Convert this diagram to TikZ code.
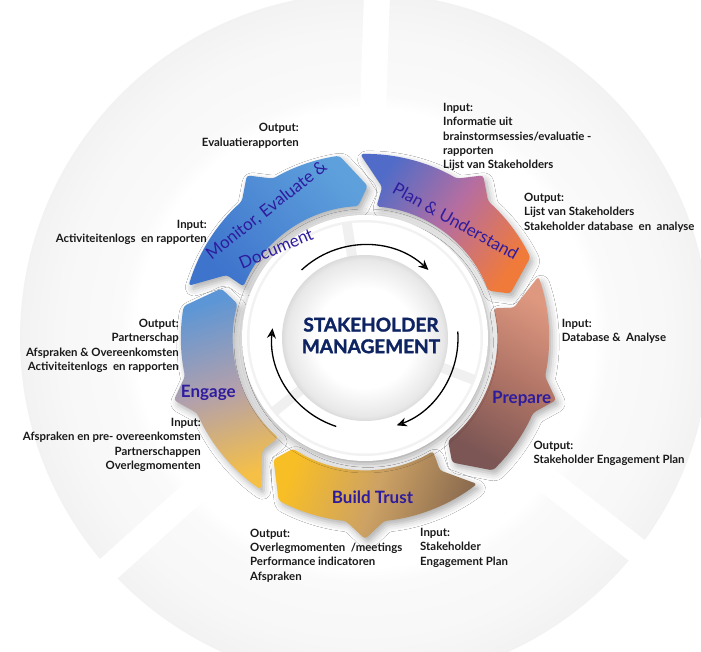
\documentclass[tikz,border=0pt]{standalone}
\usepackage{fontspec}
\setmainfont{Lato}
\newfontfamily\heavyfont{Lato}[BoldFeatures={FakeBold=1.6}]
\usetikzlibrary{shadows.blur,arrows.meta}
\definecolor{stagecol}{RGB}{46,28,158}
\definecolor{navy}{RGB}{14,36,98}
\definecolor{lbltext}{RGB}{25,25,25}
\pgfdeclareradialshading{bgring}{\pgfpoint{0bp}{0bp}}{color(0bp)=(white);color(16.6bp)=(white);color(17.8bp)=(black!2);color(22bp)=(black!3);color(25bp)=(black!5);color(50bp)=(black!5)}
\pgfdeclareradialshading{innerdisc}{\pgfpoint{0bp}{0bp}}{color(0bp)=(white);color(15bp)=(white);color(23.5bp)=(black!9);color(25bp)=(black!14);color(50bp)=(black!14)}
\tikzset{
  gearseg/.style={insert path={({#1+37.5}:184) arc[start angle={#1+37.5},end angle={#1+6},radius=184pt]
     -- ({#1}:201) -- ({#1-6}:184) arc[start angle={#1-6},end angle={#1-28},radius=184pt]
     -- ({#1-37}:152) -- ({#1-33}:132) arc[start angle={#1-33},end angle={#1+31},radius=132pt]
     -- ({#1+29.5}:152) -- cycle}},
  segshadow/.style={blur shadow={shadow xshift=3pt,shadow yshift=-4pt,shadow blur radius=7pt,shadow opacity=32}},
  lbl/.style={inner sep=0pt,text=lbltext,font=\fontsize{11.4}{14.3}\selectfont\bfseries},
  stagelbl/.style={inner sep=0pt,text=stagecol,font=\fontsize{17}{20}\selectfont\bfseries},
  stagerot/.style={inner sep=0pt,text=stagecol,font=\fontsize{17}{20}\selectfont},
  cyclearrow/.style={line width=1.3pt,-{Stealth[length=10pt,width=9pt]}},
}
\begin{document}
\begin{tikzpicture}[x=1pt,y=1pt]
\useasboundingbox (-365,-314) rectangle (336,338);
\fill[white] (-365,-314) rectangle (336,338);
% background ring with spokes
\shade[shading=bgring] (0,0) circle[radius=345pt];
\foreach \a in {88,222,322}{
  \fill[white,rotate=\a] (226,-13) rectangle (370,13);
}
% gear segments
\shade[segshadow,rounded corners=3pt,top color={rgb,255:red,94;green,160;blue,220},bottom color={rgb,255:red,62;green,116;blue,204},shading angle=-45] [gearseg=126];
\shade[segshadow,rounded corners=3pt,top color={rgb,255:red,80;green,108;blue,200},bottom color={rgb,255:red,240;green,122;blue,58},middle color={rgb,255:red,182;green,110;blue,160},shading angle=55] [gearseg=54];
\shade[segshadow,rounded corners=3pt,top color={rgb,255:red,222;green,152;blue,128},bottom color={rgb,255:red,124;green,86;blue,84},middle color={rgb,255:red,176;green,116;blue,102},shading angle=-30] [gearseg=-18];
\shade[segshadow,rounded corners=3pt,top color={rgb,255:red,248;green,190;blue,38},bottom color={rgb,255:red,140;green,108;blue,80},middle color={rgb,255:red,205;green,162;blue,100},shading angle=70] [gearseg=-90];
\shade[segshadow,rounded corners=3pt,top color={rgb,255:red,92;green,150;blue,214},bottom color={rgb,255:red,246;green,192;blue,70},middle color={rgb,255:red,178;green,160;blue,172},shading angle=18] [gearseg=-162];
% central disc
\fill[white,blur shadow={shadow xshift=1pt,shadow yshift=-3pt,shadow blur radius=9pt,shadow opacity=38}] (0,0) circle[radius=123pt];
\fill[black!5] (0,0) circle[radius=118pt];
\fill[white] (0,0) circle[radius=115.5pt];
\foreach \a in {99,-21,219}{
  \fill[black!6,rotate=\a] (80,-5) rectangle (117,5);
}
\shade[shading=innerdisc] (0,0) circle[radius=83pt];
% cycle arrows
\draw[cyclearrow] (133:93) arc[start angle=133,end angle=47,radius=93pt];
\draw[cyclearrow] (4:93) arc[start angle=4,end angle=-70,radius=93pt];
\draw[cyclearrow] (252:93) arc[start angle=252,end angle=174,radius=93pt];
% centre title
\node[align=center,inner sep=0pt,text=navy,font=\heavyfont\bfseries\fontsize{19}{21.6}\selectfont] (title) at (6,2.5) {STAKEHOLDER\\MANAGEMENT};
% stage labels
\node[stagerot,rotate=-29] (plan) at (90.8,117) {Plan \& Understand};
\node[stagerot,rotate=38] (mon1) at (-98.3,127.5) {Monitor, Evaluate \&};
\node[stagerot,rotate=23] (mon2) at (-89,89.5) {Document};
\node[stagelbl,anchor=base] (prep) at (156.7,-65.3) {Prepare};
\node[stagelbl,anchor=base] (trust) at (7.5,-165.3) {Build Trust};
\node[stagelbl,anchor=base] (engage) at (-156.7,-59.3) {Engage};
% input / output labels
\node[lbl,anchor=base east] (o1) at (-66,206) {\begin{tabular}[t]{@{}r@{}}Output:\\Evaluatierapporten\end{tabular}};
\node[lbl,anchor=base west] (i1) at (78,226.3) {\begin{tabular}[t]{@{}l@{}}Input:\\Informatie uit\\brainstormsessies/evaluatie -\\rapporten\\Lijst van Stakeholders\end{tabular}};
\node[lbl,anchor=base west] (o2) at (159,136.3) {\begin{tabular}[t]{@{}l@{}}Output:\\Lijst van Stakeholders\\Stakeholder database~ en~ analyse\end{tabular}};
\node[lbl,anchor=base east] (i5) at (-158,109.7) {\begin{tabular}[t]{@{}r@{}}Input:\\Activiteitenlogs~ en rapporten\end{tabular}};
\node[lbl,anchor=base west] (i2) at (196.7,10.7) {\begin{tabular}[t]{@{}l@{}}Input:\\Database \&~ Analyse\end{tabular}};
\node[lbl,anchor=base west] (o3) at (168.3,-111.3) {\begin{tabular}[t]{@{}l@{}}Output:\\Stakeholder Engagement Plan\end{tabular}};
\node[lbl,anchor=base east] (o4) at (-186,10.3) {\begin{tabular}[t]{@{}r@{}}Output:\\Partnerschap\\Afspraken \& Overeenkomsten\\Activiteitenlogs~ en rapporten\end{tabular}};
\node[lbl,anchor=base east] (i4) at (-164,-88.7) {\begin{tabular}[t]{@{}r@{}}Input:\\Afspraken en pre- overeenkomsten\\Partnerschappen\\Overlegmomenten\end{tabular}};
\node[lbl,anchor=base west] (o5) at (-115,-199.3) {\begin{tabular}[t]{@{}l@{}}Output:\\Overlegmomenten~ /meetings\\Performance indicatoren\\Afspraken\end{tabular}};
\node[lbl,anchor=base west] (i3) at (55,-198.7) {\begin{tabular}[t]{@{}l@{}}Input:\\Stakeholder\\Engagement Plan\end{tabular}};
\end{tikzpicture}
\end{document}
